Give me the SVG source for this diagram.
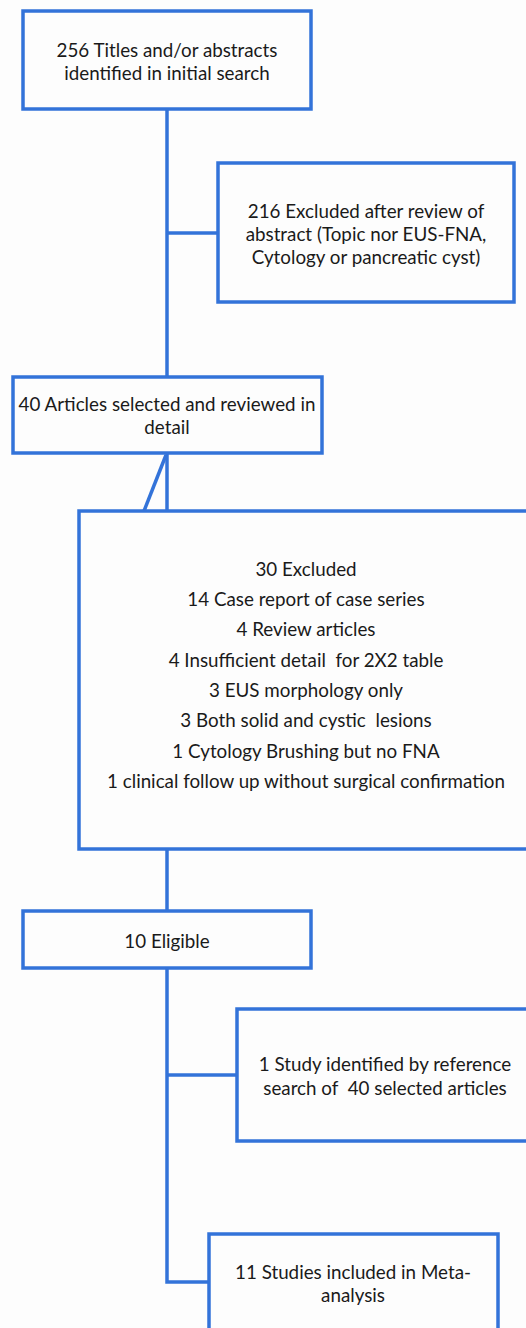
<svg xmlns="http://www.w3.org/2000/svg" width="526" height="1328" viewBox="0 0 526 1328">
<style>
.box{fill:#fdfdfd;stroke:#3373d9;stroke-width:3.5}
.conn{fill:none;stroke:#3373d9;stroke-width:3.5}
text{font-family:Lato,"Liberation Sans",sans-serif;font-size:18.8px;fill:#1a1a1a;text-anchor:middle;dominant-baseline:central;white-space:pre}
</style>
<rect x="0" y="0" width="526" height="1328" fill="#fdfdfd"/>
<g id="connectors">
<polyline class="conn" points="167,110 167,376"/>
<line class="conn" x1="167" y1="233" x2="217" y2="233"/>
<line class="conn" x1="167" y1="453" x2="167" y2="511"/>
<line class="conn" x1="166" y1="455" x2="144" y2="511"/>
<line class="conn" x1="167" y1="849" x2="167" y2="910"/>
<polyline class="conn" points="167,968 167,1282 209,1282"/>
<line class="conn" x1="167" y1="1075" x2="237" y2="1075"/>
</g>
<g id="n1">
<rect class="box" x="23" y="11" width="288" height="98"/>
<text x="167" y="49">256 Titles and/or abstracts</text>
<text x="167" y="72">identified in initial search</text>
</g>
<g id="n2">
<rect class="box" x="218" y="163" width="296" height="139"/>
<text x="366" y="210">216 Excluded after review of</text>
<text x="366" y="233">abstract (Topic nor EUS-FNA,</text>
<text x="366" y="256">Cytology or pancreatic cyst)</text>
</g>
<g id="n3">
<rect class="box" x="13" y="377" width="309" height="76"/>
<text x="167" y="403">40 Articles selected and reviewed in</text>
<text x="167" y="426">detail</text>
</g>
<g id="n4">
<rect class="box" x="79" y="511" width="460" height="338"/>
<text x="306" y="568">30 Excluded</text>
<text x="306" y="598">14 Case report of case series</text>
<text x="306" y="628">4 Review articles</text>
<text x="306" y="659">4 Insufficient detail  for 2X2 table</text>
<text x="306" y="689">3 EUS morphology only</text>
<text x="306" y="719">3 Both solid and cystic  lesions</text>
<text x="306" y="750">1 Cytology Brushing but no FNA</text>
<text x="306" y="780">1 clinical follow up without surgical confirmation</text>
</g>
<g id="n5">
<rect class="box" x="23" y="911" width="288" height="57"/>
<text x="167" y="940">10 Eligible</text>
</g>
<g id="n6">
<rect class="box" x="237" y="1009" width="300" height="132"/>
<text x="385" y="1063">1 Study identified by reference</text>
<text x="385" y="1087">search of  40 selected articles</text>
</g>
<g id="n7">
<rect class="box" x="209" y="1234" width="289" height="110"/>
<text x="353" y="1271">11 Studies included in Meta-</text>
<text x="353" y="1294">analysis</text>
</g>
</svg>
